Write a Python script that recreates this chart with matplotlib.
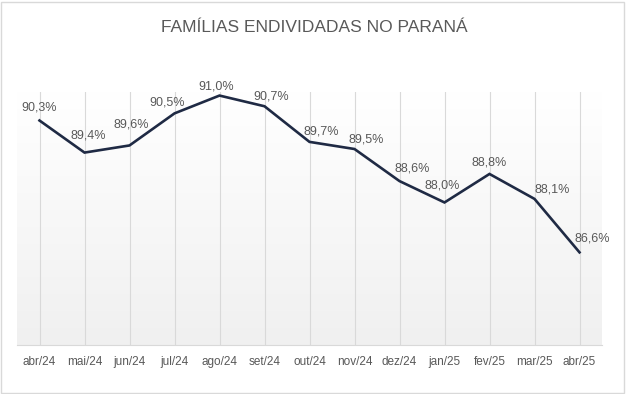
import matplotlib
matplotlib.use("Agg")
import matplotlib.pyplot as plt
import numpy as np
from matplotlib.patches import Rectangle

# Dados
meses = ["abr/24", "mai/24", "jun/24", "jul/24", "ago/24", "set/24", "out/24",
         "nov/24", "dez/24", "jan/25", "fev/25", "mar/25", "abr/25"]
endividadas = [90.3, 89.4, 89.6, 90.5, 91.0, 90.7, 89.7, 89.5, 88.6, 88.0, 88.8, 88.1, 86.6]

# deslocamento dos rótulos (px) - ajustado a olho
label_dx = [0, 4, 2, -7, -3, 7, 12, 12, 13, -2, 0, 18, 13]
label_dy = [13, 17, 21, 11, 9, 10, 10, 10, 13, 17, 11, 9, 14]

fig = plt.figure(figsize=(6.28, 3.94), dpi=100)
fig.patch.set_facecolor("white")
ax = fig.add_axes([17/628, 49/394, 585/628, 253/394])

# fundo com gradiente
grad = np.linspace(1, 0, 256).reshape(-1, 1)
ax.imshow(grad, extent=[0, 1, 0, 1], transform=ax.transAxes, aspect="auto",
          cmap=matplotlib.colors.LinearSegmentedColormap.from_list("g", ["#f0f0f0", "#ffffff"]),
          zorder=0)

x = np.arange(len(meses))
for xi in x:
    ax.axvline(xi, color="#d9d9d9", linewidth=0.8, zorder=1)

ax.plot(x, endividadas, color="#1f2a44", linewidth=1.9, zorder=3, solid_joinstyle="miter")

for xi, v, dx, dy in zip(x, endividadas, label_dx, label_dy):
    ax.annotate(f"{v:.1f}%".replace(".", ","), (xi, v),
                xytext=(dx * 0.72, dy * 0.72), textcoords="offset points",
                ha="center", va="center", fontsize=9, color="#595959",
                family=["Liberation Sans", "DejaVu Sans"], zorder=4)

ax.set_xlim(-0.5, len(meses) - 0.5)
ax.set_ylim(84, 91.1)
ax.set_xticks(x)
ax.set_xticklabels(meses, fontsize=8.5, color="#595959", family=["Liberation Sans Narrow", "Liberation Sans"])
ax.tick_params(axis="x", length=0, pad=8)
ax.set_yticks([])

for s in ["top", "right", "left"]:
    ax.spines[s].set_visible(False)
ax.spines["bottom"].set_color("#d9d9d9")
ax.spines["bottom"].set_linewidth(0.8)

fig.text(0.5, 1 - 27/394, "FAMÍLIAS ENDIVIDADAS NO PARANÁ", ha="center", va="center",
         fontsize=12.5, color="#595959", family=["Liberation Sans", "DejaVu Sans"])

# moldura
fig.patches.append(Rectangle((1/628, 1/394), 623/628, 391/394, transform=fig.transFigure,
                             fill=False, edgecolor="#d9d9d9", linewidth=1))

fig.savefig("out.png", dpi=100)
